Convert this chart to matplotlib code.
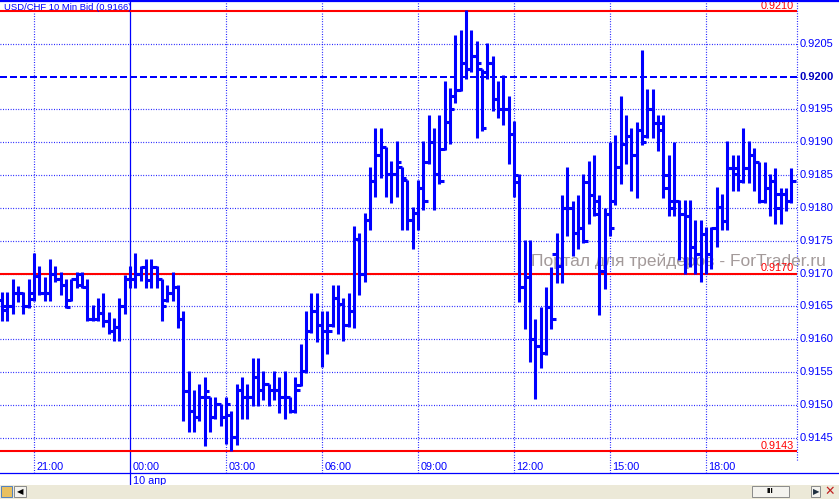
import numpy as np
import pandas as pd
import matplotlib
matplotlib.use("Agg")
from matplotlib import pyplot as plt
from matplotlib.lines import Line2D
from matplotlib.patches import Rectangle
import matplotlib.transforms as mtransforms

plt.rcParams['font.family'] = ['Liberation Sans', 'DejaVu Sans']

# USD/CHF 10 min bars, 20:00 -> 20:40 next day
start_time = '2008-04-09 20:00'

highs = [0.91672, 0.91672, 0.91692, 0.91681, 0.91672, 0.91692, 0.91732, 0.91712, 0.91695, 0.91722,
         0.91712, 0.91702, 0.91691, 0.91692, 0.91702, 0.91702, 0.91691, 0.91652, 0.91662, 0.91671,
         0.91642, 0.91632, 0.91662, 0.91698, 0.91712, 0.91732, 0.91712, 0.91722, 0.91722, 0.91712,
         0.91692, 0.91682, 0.91702, 0.91682, 0.91643, 0.91552, 0.91522, 0.91532, 0.91542, 0.91512,
         0.91512, 0.91502, 0.91512, 0.91491, 0.91532, 0.91542, 0.91532, 0.91572, 0.91572, 0.91552,
         0.91532, 0.91552, 0.91542, 0.91552, 0.91512, 0.91542, 0.91592, 0.91643, 0.91671, 0.91671,
         0.91643, 0.91643, 0.91682, 0.91682, 0.91662, 0.91671, 0.91772, 0.91762, 0.91792, 0.91863,
         0.91922, 0.91922, 0.91892, 0.91872, 0.91902, 0.91863, 0.91842, 0.91801, 0.91842, 0.91902,
         0.91942, 0.91922, 0.91942, 0.91993, 0.91982, 0.92063, 0.92071, 0.92101, 0.92071, 0.92054,
         0.92012, 0.92051, 0.92032, 0.91993, 0.92002, 0.91971, 0.91932, 0.91851, 0.91751, 0.91751,
         0.91631, 0.91649, 0.91680, 0.91710, 0.91761, 0.91820, 0.91862, 0.91810, 0.91820, 0.91851,
         0.91871, 0.91881, 0.91820, 0.91800, 0.91901, 0.91911, 0.91970, 0.91941, 0.91921, 0.91931,
         0.92041, 0.91981, 0.91981, 0.91941, 0.91941, 0.91881, 0.91901, 0.91812, 0.91812, 0.91812,
         0.91781, 0.91781, 0.91771, 0.91771, 0.91832, 0.91821, 0.91902, 0.91881, 0.91881, 0.91922,
         0.91902, 0.91891, 0.91870, 0.91870, 0.91851, 0.91861, 0.91831, 0.91831, 0.91861]
lows = [0.91627, 0.91627, 0.91638, 0.91657, 0.91638, 0.91647, 0.91658, 0.91668, 0.91658, 0.91658,
        0.91687, 0.91667, 0.91647, 0.91658, 0.91678, 0.91678, 0.91628, 0.91628, 0.91628, 0.91618,
        0.91608, 0.91597, 0.91597, 0.91638, 0.91678, 0.91678, 0.91688, 0.91678, 0.91678, 0.91678,
        0.91627, 0.91657, 0.91658, 0.91617, 0.91476, 0.91458, 0.91458, 0.91476, 0.91437, 0.91458,
        0.91478, 0.91468, 0.91440, 0.91430, 0.91439, 0.91478, 0.91478, 0.91498, 0.91498, 0.91508,
        0.91498, 0.91508, 0.91488, 0.91478, 0.91488, 0.91488, 0.91528, 0.91548, 0.91609, 0.91596,
        0.91557, 0.91577, 0.91618, 0.91608, 0.91597, 0.91618, 0.91617, 0.91667, 0.91687, 0.91767,
        0.91816, 0.91846, 0.91816, 0.91807, 0.91816, 0.91767, 0.91767, 0.91738, 0.91767, 0.91797,
        0.91867, 0.91797, 0.91837, 0.91888, 0.91897, 0.91960, 0.91978, 0.91997, 0.92007, 0.91907,
        0.91917, 0.91997, 0.91947, 0.91937, 0.91927, 0.91867, 0.91816, 0.91656, 0.91616, 0.91566,
        0.91509, 0.91556, 0.91576, 0.91616, 0.91686, 0.91686, 0.91757, 0.91727, 0.91737, 0.91747,
        0.91776, 0.91787, 0.91637, 0.91676, 0.91757, 0.91805, 0.91836, 0.91867, 0.91826, 0.91815,
        0.91896, 0.91906, 0.91906, 0.91887, 0.91815, 0.91787, 0.91787, 0.91720, 0.91699, 0.91710,
        0.91699, 0.91687, 0.91699, 0.91707, 0.91740, 0.91766, 0.91766, 0.91826, 0.91826, 0.91838,
        0.91838, 0.91826, 0.91808, 0.91808, 0.91788, 0.91776, 0.91776, 0.91796, 0.91808]
opens = [0.91660, 0.91645, 0.91651, 0.91671, 0.91671, 0.91651, 0.91661, 0.91696, 0.91671, 0.91671,
         0.91700, 0.91692, 0.91682, 0.91660, 0.91691, 0.91700, 0.91680, 0.91631, 0.91631, 0.91640,
         0.91628, 0.91613, 0.91618, 0.91650, 0.91691, 0.91692, 0.91700, 0.91710, 0.91690, 0.91710,
         0.91692, 0.91660, 0.91671, 0.91680, 0.91631, 0.91521, 0.91491, 0.91481, 0.91512, 0.91512,
         0.91481, 0.91502, 0.91481, 0.91485, 0.91451, 0.91522, 0.91512, 0.91512, 0.91542, 0.91522,
         0.91532, 0.91522, 0.91522, 0.91512, 0.91512, 0.91491, 0.91530, 0.91552, 0.91613, 0.91643,
         0.91622, 0.91613, 0.91622, 0.91662, 0.91653, 0.91622, 0.91643, 0.91752, 0.91700, 0.91782,
         0.91841, 0.91880, 0.91892, 0.91852, 0.91852, 0.91863, 0.91842, 0.91781, 0.91792, 0.91831,
         0.91870, 0.91901, 0.91852, 0.91890, 0.91931, 0.91970, 0.91980, 0.92021, 0.92011, 0.92031,
         0.92012, 0.92007, 0.92021, 0.91966, 0.91950, 0.91950, 0.91912, 0.91840, 0.91680, 0.91694,
         0.91600, 0.91590, 0.91579, 0.91649, 0.91730, 0.91712, 0.91800, 0.91800, 0.91761, 0.91770,
         0.91840, 0.91820, 0.91810, 0.91704, 0.91790, 0.91810, 0.91863, 0.91898, 0.91909, 0.91880,
         0.91919, 0.91910, 0.91951, 0.91930, 0.91919, 0.91831, 0.91800, 0.91810, 0.91790, 0.91788,
         0.91740, 0.91730, 0.91760, 0.91730, 0.91770, 0.91801, 0.91780, 0.91860, 0.91861, 0.91841,
         0.91861, 0.91881, 0.91870, 0.91810, 0.91830, 0.91841, 0.91800, 0.91821, 0.91810]
closes = [0.91651, 0.91651, 0.91671, 0.91671, 0.91651, 0.91671, 0.91696, 0.91671, 0.91671, 0.91700,
          0.91692, 0.91682, 0.91649, 0.91691, 0.91682, 0.91680, 0.91631, 0.91631, 0.91640, 0.91628,
          0.91613, 0.91618, 0.91650, 0.91691, 0.91692, 0.91700, 0.91710, 0.91690, 0.91710, 0.91692,
          0.91651, 0.91671, 0.91680, 0.91631, 0.91521, 0.91491, 0.91481, 0.91512, 0.91521, 0.91481,
          0.91502, 0.91481, 0.91502, 0.91451, 0.91522, 0.91512, 0.91512, 0.91542, 0.91522, 0.91532,
          0.91522, 0.91522, 0.91512, 0.91512, 0.91491, 0.91522, 0.91552, 0.91613, 0.91643, 0.91622,
          0.91613, 0.91613, 0.91662, 0.91653, 0.91622, 0.91643, 0.91752, 0.91700, 0.91782, 0.91841,
          0.91880, 0.91892, 0.91852, 0.91852, 0.91870, 0.91846, 0.91781, 0.91792, 0.91831, 0.91811,
          0.91901, 0.91852, 0.91841, 0.91931, 0.91950, 0.91980, 0.92021, 0.92011, 0.92031, 0.92021,
          0.91921, 0.92021, 0.91966, 0.91950, 0.91950, 0.91912, 0.91850, 0.91680, 0.91694, 0.91600,
          0.91590, 0.91579, 0.91649, 0.91631, 0.91712, 0.91800, 0.91800, 0.91761, 0.91770, 0.91750,
          0.91820, 0.91790, 0.91704, 0.91790, 0.91770, 0.91863, 0.91898, 0.91909, 0.91880, 0.91919,
          0.91901, 0.91951, 0.91930, 0.91930, 0.91850, 0.91811, 0.91810, 0.91790, 0.91788, 0.91740,
          0.91730, 0.91760, 0.91730, 0.91770, 0.91801, 0.91780, 0.91860, 0.91851, 0.91841, 0.91861,
          0.91881, 0.91870, 0.91810, 0.91830, 0.91841, 0.91821, 0.91821, 0.91810, 0.91841]

price_ticks = [0.9145, 0.9150, 0.9155, 0.9160, 0.9165, 0.9170, 0.9175, 0.9180,
               0.9185, 0.9190, 0.9195, 0.9200, 0.9205]
red_levels = [0.9210, 0.9170, 0.9143]
title = 'USD/CHF 10 Min Bid (0.9166)'
date_label = '10 апр'
watermark = 'Портал для трейдеров - ForTrader.ru'

BLUE = '#0000FF'
RED = '#FF0000'
DOTS = (0, (0.72, 1.44))

W, H = 839, 499
fig = plt.figure(figsize=(W / 100, H / 100), dpi=100)
fig.patch.set_facecolor('white')

# plot area: x 0..797 px, y 2..473 px (from top)
ax = fig.add_axes([0, 26 / H, 797 / W, 471 / H])
ax.set_xlim(-0.375, 149.06)
ax.set_ylim(0.913962, 0.921136)
ax.axis('off')

times = pd.date_range(start_time, periods=len(highs), freq='10min')
x = np.arange(len(highs))

# horizontal grid
for p in price_ticks:
    if abs(p - 0.9200) < 1e-9:
        ax.axhline(p, color=BLUE, lw=1.44, ls=(0, (3.5, 1.5)), zorder=1)
    else:
        ax.axhline(p, color=BLUE, lw=0.85, ls=DOTS, zorder=1)

# vertical grid at 3-hour marks
for i, t in enumerate(times):
    if t.minute == 0 and t.hour % 3 == 0:
        if t.hour == 0:
            ax.axvline(i, ymin=-12 / 471, ymax=1, color=BLUE, lw=0.9,
                       clip_on=False, zorder=1)
            ax.text(i + 0.5, -8 / 471, date_label, transform=ax.get_xaxis_transform(),
                    fontsize=7.8, color=BLUE, ha='left', va='center')
        else:
            ax.axvline(i, color=BLUE, lw=0.85, ls=DOTS, zorder=1)
        ax.text(i + 0.45, 6 / 471, t.strftime('%H:%M'), transform=ax.get_xaxis_transform(),
                fontsize=7.8, color=BLUE, ha='left', va='center', zorder=5)

# right axis dotted line and labels
ax.plot([1, 1], [13 / 471, 1], transform=ax.transAxes, color=BLUE, lw=0.85,
        ls=DOTS, clip_on=False)
trans = mtransforms.blended_transform_factory(ax.transAxes, ax.transData)
for p in price_ticks:
    bold = abs(p - 0.9200) < 1e-9
    ax.text(1.003, p, '%.4f' % p, transform=trans, fontsize=8,
            color='#0000C0' if bold else BLUE, fontweight='bold' if bold else 'normal',
            ha='left', va='center', clip_on=False)

# watermark
ax.text(0.8513, 0.449, watermark, transform=ax.transAxes, fontsize=12.5,
        color='#A39A9A', ha='center', va='center', clip_on=False, zorder=2)

# red levels
for p in red_levels:
    ax.axhline(p, color=RED, lw=1.5, zorder=3)
    ax.text(0.9965, p + 0.000004, '%.4f' % p, transform=trans, fontsize=7.8,
            color=RED, ha='right', va='bottom', zorder=6)

# OHLC bars
ax.vlines(x, lows, highs, color=BLUE, lw=2.2, zorder=4)
ax.hlines(opens, x - 0.8, x, color=BLUE, lw=2.2, zorder=4)
ax.hlines(closes, x, x + 0.8, color=BLUE, lw=2.2, zorder=4)

# title
ax.text(4 / 797, 1 - 5 / 471, title, transform=ax.transAxes, fontsize=6.8,
        color=BLUE, ha='left', va='center', zorder=6)

# frame lines
fig.add_artist(Line2D([0, 1], [1 - 1 / H, 1 - 1 / H], color=BLUE, lw=1.6))
fig.add_artist(Line2D([0, 1], [26 / H, 26 / H], color=BLUE, lw=0.9))

# scroll bar strip
fig.add_artist(Rectangle((0, 0), 1, 14 / H, transform=fig.transFigure,
                         facecolor='#ECE9D8', edgecolor='none'))
fig.add_artist(Rectangle((14 / W, 2 / H), 12 / W, 11 / H, transform=fig.transFigure,
                         facecolor='#F4F3EE', edgecolor='#8A8A8A', lw=0.7))
fig.text(20 / W, 7.5 / H, '◀', fontsize=6, color='black', ha='center', va='center',
         family=['DejaVu Sans'])
fig.add_artist(Rectangle((1 / W, 2 / H), 11 / W, 11 / H, transform=fig.transFigure,
                         facecolor='#E8C060', edgecolor='#5080C0', lw=0.7))
fig.add_artist(Rectangle((752 / W, 2 / H), 37 / W, 11 / H, transform=fig.transFigure,
                         facecolor='#F4F3EE', edgecolor='#8A8A8A', lw=0.7))
fig.text(770 / W, 7.5 / H, 'III', fontsize=6, fontweight='bold', color='black',
         ha='center', va='center')
fig.add_artist(Rectangle((811 / W, 2 / H), 9 / W, 11 / H, transform=fig.transFigure,
                         facecolor='#F4F3EE', edgecolor='#8A8A8A', lw=0.7))
fig.text(816 / W, 7.5 / H, '▶', fontsize=6, color='#203040', ha='center', va='center',
         family=['DejaVu Sans'])
fig.text(830 / W, 7.5 / H, '✕', fontsize=9, color='#C02020', ha='center', va='center',
         family=['DejaVu Sans'])

fig.savefig('out.png', dpi=100, facecolor='white')
